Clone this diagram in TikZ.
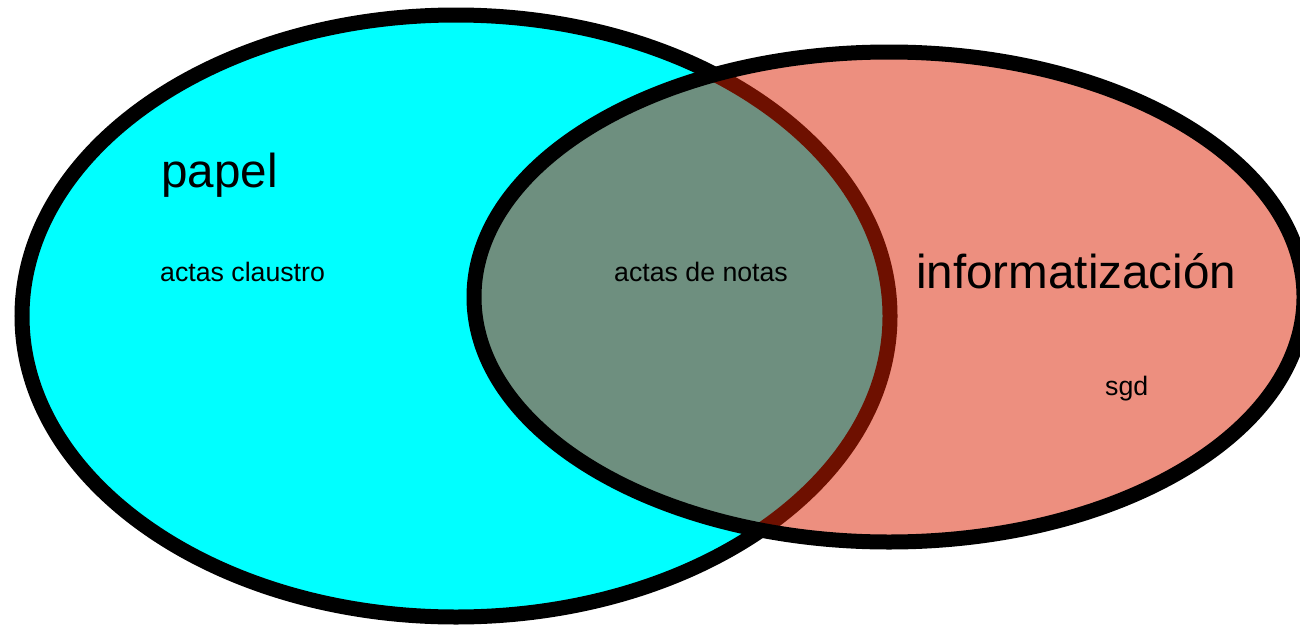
\documentclass[tikz,border=0pt]{standalone}
\usepackage{fontspec}
\setmainfont{Liberation Sans}
\definecolor{papelcol}{RGB}{0,255,255}
\definecolor{infocol}{RGB}{220,32,0}
\tikzset{
  setline/.style={line width=15pt, draw=black},
  bigtxt/.style={font=\fontsize{47.6}{50}\selectfont, inner sep=0pt, anchor=base west},
  smalltxt/.style={font=\fontsize{26.7}{30}\selectfont, inner sep=0pt, anchor=base west}
}
\begin{document}
\begin{tikzpicture}[x=1pt,y=-1pt]
\useasboundingbox (0,0) rectangle (1300,624);
\fill[white] (0,0) rectangle (1300,624);
% left set
\draw[setline, fill=papelcol] (456,316) ellipse [x radius=434, y radius=301];
% right set
\fill[infocol, fill opacity=0.5] (889,297) ellipse [x radius=415, y radius=245];
\draw[setline] (889,297) ellipse [x radius=415, y radius=245];
% labels
\node[bigtxt] (papel) at (161,187) {papel};
\node[smalltxt] (claustro) at (160,281) {actas claustro};
\node[smalltxt] (notas) at (614,281) {actas de notas};
\node[bigtxt] (info) at (916,288) {informatización};
\node[smalltxt] (sgd) at (1105,395) {sgd};
\end{tikzpicture}
\end{document}
